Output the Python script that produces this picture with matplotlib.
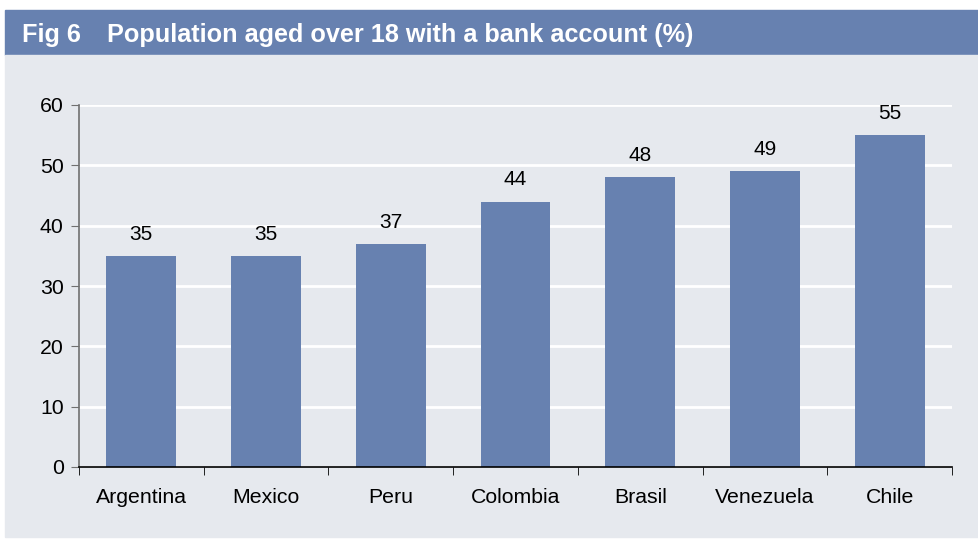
import matplotlib.pyplot as plt
from matplotlib.patches import Rectangle

countries = ['Argentina', 'Mexico', 'Peru', 'Colombia', 'Brasil', 'Venezuela', 'Chile']
share = [35, 35, 37, 44, 48, 49, 55]
yticks = [0, 10, 20, 30, 40, 50, 60]

blue = '#6781b0'
panel = '#e6e9ee'

plt.rcParams['font.family'] = ['Liberation Sans', 'DejaVu Sans']

fig = plt.figure(figsize=(9.79, 5.41), dpi=100)
W, H = 979, 541

# header band and grey panel behind the chart
fig.patches.append(Rectangle((5 / W, 1 - 55 / H), 1 - 5 / W, 45 / H,
                             transform=fig.transFigure, color=blue, zorder=0))
fig.patches.append(Rectangle((5 / W, 1 - 537 / H), 1 - 5 / W, 482 / H,
                             transform=fig.transFigure, color=panel, zorder=0))
fig.text(22 / W, 1 - 35 / H, 'Fig 6', color='white', fontsize=18.2,
         fontweight='bold', va='center', ha='left')
fig.text(107 / W, 1 - 35 / H, 'Population aged over 18 with a bank account (%)',
         color='white', fontsize=18.2, fontweight='bold', va='center', ha='left')

ax = fig.add_axes([79 / W, 1 - 467 / H, (952 - 79) / W, (467 - 105) / H], zorder=2)
ax.set_facecolor('none')

x = range(len(countries))
bars = ax.bar(x, share, width=0.56, color=blue, zorder=2)
for xi, v in zip(x, share):
    ax.text(xi, v + 2, str(v), ha='center', va='bottom', fontsize=15)

ax.set_xlim(-0.5, len(countries) - 0.5)
ax.set_ylim(0, 60)
ax.set_yticks(yticks)
ax.yaxis.grid(True, color='white', linewidth=2, zorder=1)
ax.set_axisbelow(True)

ax.set_xticks(x)
ax.set_xticklabels(countries, fontsize=15.3)
ax.set_xticks([i - 0.5 for i in range(len(countries) + 1)], minor=True)
ax.tick_params(axis='x', which='major', length=0, pad=15)
ax.tick_params(axis='x', which='minor', length=6, direction='out', color='black')
ax.tick_params(axis='y', labelsize=15.3, length=6, direction='out', color='#707070', pad=5)

for s in ['top', 'right']:
    ax.spines[s].set_visible(False)
ax.spines['left'].set_color('#707070')
ax.spines['left'].set_linewidth(1.2)
ax.spines['bottom'].set_color('black')
ax.spines['bottom'].set_linewidth(1.2)

fig.savefig('out.png', dpi=100, facecolor='white')
